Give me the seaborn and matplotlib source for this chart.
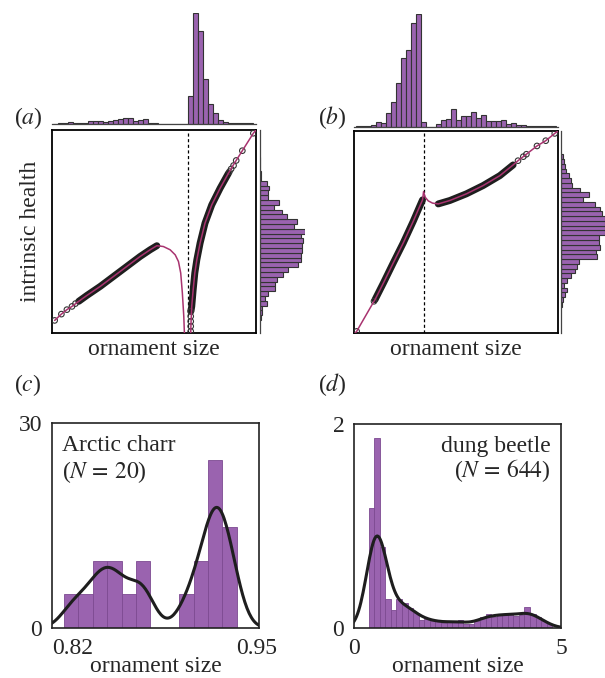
import numpy as np
import pandas as pd
import matplotlib
matplotlib.use('Agg')
import matplotlib.pyplot as plt
import seaborn as sns

# ---------------- data ----------------
# (a) marginal: ornament size (bin range lo, hi, n) and bar heights
orn_a_range = (0.005, 0.985, 40)
orn_a_heights = [1, 2, 3, 5, 3, 3, 4, 8, 8, 9, 7, 9, 13, 14, 18, 18, 10, 11, 14, 4,
                 2, 0, 0, 0, 0, 0, 0, 83, 333, 280, 135, 60, 33, 12, 5, 2, 2, 2, 2, 2]
# (a) marginal: intrinsic health (bottom -> top)
health_a_range = (0.064, 0.868, 34)
health_a_heights = [3, 8, 8, 21, 16, 26, 46, 46, 51, 69, 86, 116, 123, 123, 126, 126, 129,
                    124, 136, 103, 111, 83, 68, 43, 58, 24, 26, 29, 23, 4, 3, 2, 1, 1]

# (b) marginals
orn_b_range = (0.0098, 0.990, 40)
orn_b_heights = [1, 1, 1, 4, 15, 12, 40, 75, 131, 205, 230, 310, 338, 14, 0, 0, 7, 19, 22, 52,
                 21, 31, 32, 44, 26, 34, 18, 16, 16, 19, 7, 11, 6, 4, 3, 1, 2, 2, 1, 1]
health_b_range = (0.130, 0.885, 32)
health_b_heights = [2, 4, 12, 16, 9, 17, 29, 42, 47, 52, 106, 104, 117, 112, 114, 131, 131,
                    131, 131, 122, 116, 102, 64, 84, 57, 32, 30, 22, 15, 10, 8, 6]

# (a) signalling curve: left branch, right branch
a_left_x = [0.013, 0.046, 0.073, 0.098, 0.131, 0.171, 0.237, 0.302, 0.367, 0.432, 0.481,
            0.514, 0.546, 0.579, 0.604, 0.620, 0.631, 0.639, 0.646, 0.649, 0.651]
a_left_y = [0.062, 0.093, 0.115, 0.131, 0.156, 0.185, 0.230, 0.279, 0.328, 0.377, 0.410,
            0.430, 0.426, 0.410, 0.385, 0.352, 0.295, 0.197, 0.082, 0.000, -0.05]
a_right_x = [0.680, 0.680, 0.682, 0.685, 0.692, 0.700, 0.710, 0.726, 0.750, 0.783, 0.824,
             0.865, 0.889, 0.933, 0.987, 1.0]
a_right_y = [-0.05, 0.000, 0.066, 0.131, 0.213, 0.295, 0.361, 0.443, 0.541, 0.631, 0.713,
             0.787, 0.828, 0.898, 0.984, 1.0]
# dense clouds of individuals along the curve
a_band1_x = [0.131, 0.171, 0.237, 0.302, 0.367, 0.432, 0.481, 0.514]
a_band1_y = [0.156, 0.185, 0.230, 0.279, 0.328, 0.377, 0.410, 0.430]
a_band2_x = [0.681, 0.685, 0.692, 0.700, 0.710, 0.726, 0.750, 0.783, 0.824, 0.865]
a_band2_y = [0.107, 0.131, 0.213, 0.295, 0.361, 0.443, 0.541, 0.631, 0.713, 0.787]
# isolated individuals
a_pts_x = [0.013, 0.046, 0.073, 0.098, 0.115, 0.680, 0.680, 0.680, 0.680, 0.680,
           0.870, 0.878, 0.890, 0.903, 0.933, 0.987]
a_pts_y = [0.062, 0.093, 0.115, 0.131, 0.145, 0.008, 0.033, 0.057, 0.082, 0.107,
           0.795, 0.808, 0.825, 0.850, 0.898, 0.984]
a_threshold = 0.666

# (b) signalling curve
b_curve_x = [0.005, 0.013, 0.098, 0.103, 0.144, 0.192, 0.241, 0.290, 0.323, 0.336, 0.341,
             0.349, 0.364, 0.385, 0.413, 0.470, 0.551, 0.633, 0.715, 0.780, 0.804, 0.845,
             0.897, 0.940, 0.984, 1.0]
b_curve_y = [0.000, 0.008, 0.157, 0.165, 0.247, 0.346, 0.445, 0.552, 0.629, 0.659, 0.700,
             0.672, 0.654, 0.643, 0.639, 0.656, 0.689, 0.730, 0.779, 0.832, 0.853, 0.885,
             0.926, 0.952, 0.988, 1.0]
b_band1_x = [0.103, 0.144, 0.192, 0.241, 0.290, 0.323, 0.336]
b_band1_y = [0.165, 0.247, 0.346, 0.445, 0.552, 0.629, 0.659]
b_band2_x = [0.413, 0.470, 0.551, 0.633, 0.715, 0.780]
b_band2_y = [0.639, 0.656, 0.689, 0.730, 0.779, 0.832]
b_pts_x = [0.013, 0.098, 0.804, 0.830, 0.845, 0.897, 0.940, 0.984]
b_pts_y = [0.008, 0.157, 0.853, 0.873, 0.885, 0.926, 0.952, 0.988]
b_threshold = 0.341

# (c) Arctic charr, N = 20
charr_range = (0.8141, 0.9358, 12)
charr_counts = [1, 1, 2, 2, 1, 2, 0, 0, 1, 2, 5, 3]
# (d) dung beetle, N = 644
beetle_range = (0.354, 4.79, 33)
beetle_counts = [102, 161, 69, 25, 15, 25, 21, 17, 13, 7, 8, 6, 6, 4, 5, 6, 7, 3, 3, 6,
                 9, 12, 9, 12, 12, 12, 10, 11, 18, 12, 9, 6, 3]

purple = '#9a63af'
pink = '#a8336f'
dark = '#1e1e1e'

sns.set_style('white')
plt.rcParams['font.family'] = ['Liberation Serif', 'DejaVu Serif']
plt.rcParams['mathtext.fontset'] = 'stix'
FS = 17


def binned(rng, heights):
    lo, hi, n = rng
    edges = np.linspace(lo, hi, n + 1)
    df = pd.DataFrame({'v': (edges[:-1] + edges[1:]) / 2, 'w': np.asarray(heights, float)})
    return df, edges.tolist()


def marginal(ax, rng, heights, horizontal=False):
    df, edges = binned(rng, heights)
    if horizontal:
        sns.histplot(data=df, y='v', weights='w', bins=edges, ax=ax, color=purple,
                     edgecolor='#333333', linewidth=0.8, alpha=1)
        ax.set_ylim(0, 1)
        ax.set_xlim(0, max(heights))
    else:
        sns.histplot(data=df, x='v', weights='w', bins=edges, ax=ax, color=purple,
                     edgecolor='#333333', linewidth=0.8, alpha=1)
        ax.set_xlim(0, 1)
        ax.set_ylim(0, max(heights))
    for side, sp in ax.spines.items():
        sp.set_visible(side == ('left' if horizontal else 'bottom'))
        sp.set_color('#444444')
        sp.set_linewidth(0.9)
    ax.set(xticks=[], yticks=[], xlabel='', ylabel='')


def main_panel(ax, curves, bands, pts, thresh):
    for bx, by in bands:
        sns.lineplot(x=bx, y=by, ax=ax, color=dark, lw=5, sort=False, estimator=None,
                     solid_capstyle='round', zorder=2)
    sns.scatterplot(x=pts[0], y=pts[1], ax=ax, s=16, facecolor='none', edgecolor='#333333',
                    linewidth=0.8, zorder=3)
    for cx, cy in curves:
        sns.lineplot(x=cx, y=cy, ax=ax, color=pink, lw=1.1, sort=False, estimator=None, zorder=4)
    ax.axvline(thresh, color='k', ls=(0, (2.5, 2)), lw=0.9, zorder=1)
    ax.set(xlim=(0, 1), ylim=(0, 1), xticks=[], yticks=[])
    ax.set_xlabel('ornament size', fontsize=FS, labelpad=4)
    for sp in ax.spines.values():
        sp.set_visible(True)
        sp.set_color('k')
        sp.set_linewidth(1.3)


W, H = 605, 678
fig = plt.figure(figsize=(W / 100, H / 100), dpi=100)


def box(x0, y0, x1, y1):
    # pixel box (top-left origin) -> figure axes
    return fig.add_axes([x0 / W, 1 - y1 / H, (x1 - x0) / W, (y1 - y0) / H])


# ---- panel (a) ----
ax_a = box(52, 130, 256, 333)
main_panel(ax_a, [(a_left_x, a_left_y), (a_right_x, a_right_y)],
           [(a_band1_x, a_band1_y), (a_band2_x, a_band2_y)], (a_pts_x, a_pts_y), a_threshold)
ax_a.set_ylabel('intrinsic health', fontsize=FS, labelpad=8)
marginal(box(52, 13, 256, 124), orn_a_range, orn_a_heights)
marginal(box(259.5, 130, 305, 333), health_a_range, health_a_heights, horizontal=True)

# ---- panel (b) ----
ax_b = box(354, 131, 558, 333)
main_panel(ax_b, [(b_curve_x, b_curve_y)],
           [(b_band1_x, b_band1_y), (b_band2_x, b_band2_y)], (b_pts_x, b_pts_y), b_threshold)
marginal(box(354, 14, 558, 126.7), orn_b_range, orn_b_heights)
marginal(box(561.3, 131, 605, 333), health_b_range, health_b_heights, horizontal=True)


# ---- panels (c) and (d) ----
def density_panel(ax, rng, counts, bw, xlim, ylim, xticks, xticklabels, yticks):
    df, edges = binned(rng, counts)
    sns.histplot(data=df, x='v', weights='w', bins=edges, stat='density', ax=ax, color=purple,
                 edgecolor='#7d4a91', linewidth=0.6, alpha=1)
    sns.kdeplot(data=df, x='v', weights='w', bw_adjust=bw, ax=ax, color=dark, lw=2.2)
    ax.set(xlim=xlim, ylim=ylim, xticks=xticks, yticks=yticks, ylabel='')
    ax.set_xticklabels(xticklabels)
    ax.set_yticklabels([str(t) for t in yticks])
    ax.set_xlabel('ornament size', fontsize=FS, labelpad=-2)
    ax.tick_params(length=0, pad=7, labelsize=FS)
    for sp in ax.spines.values():
        sp.set_visible(True)
        sp.set_color('#222222')
        sp.set_linewidth(1.2)


ax_c = box(52, 423, 259, 628)
density_panel(ax_c, charr_range, charr_counts, 0.31, (0.8056, 0.9514), (0, 30),
              [0.82, 0.95], ['0.82', '0.95'], [0, 30])
ax_c.text(0.05, 0.89, 'Arctic charr', transform=ax_c.transAxes, fontsize=FS,
          ha='left', va='center')
ax_c.text(0.05, 0.76, r'($N\,=\,20$)', transform=ax_c.transAxes, fontsize=FS,
          ha='left', va='center')

ax_d = box(354, 424, 561, 628)
density_panel(ax_d, beetle_range, beetle_counts, 0.24, (0, 5), (0, 2),
              [0, 5], ['0', '5'], [0, 2])
ax_d.text(0.95, 0.89, 'dung beetle', transform=ax_d.transAxes, fontsize=FS,
          ha='right', va='center')
ax_d.text(0.95, 0.77, r'($N\,=\,644$)', transform=ax_d.transAxes, fontsize=FS,
          ha='right', va='center')

# panel letters
for lx, ly, s in [(28, 118, '($a$)'), (332, 118, '($b$)'), (28, 385, '($c$)'), (332, 385, '($d$)')]:
    fig.text(lx / W, 1 - ly / H, s, fontsize=FS, ha='center', va='center')

fig.savefig('out.png', dpi=100)
